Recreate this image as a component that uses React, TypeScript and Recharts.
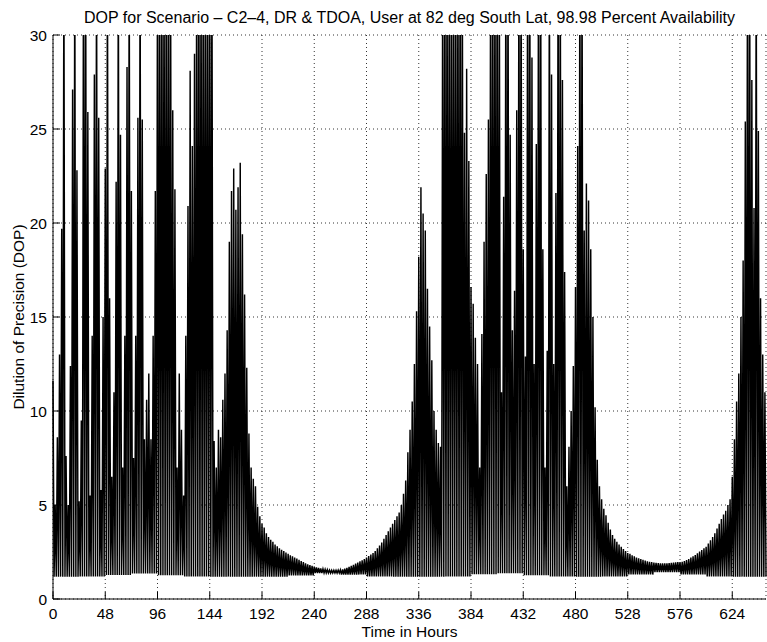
import React from 'react'
import {
  LineChart,
  Line,
  XAxis,
  YAxis,
  CartesianGrid,
} from 'recharts'

const title =
  'DOP for Scenario – C2–4, DR & TDOA, User at 82 deg South Lat, 98.98 Percent Availability'

// x ticks (hours) and y ticks (DOP)
const hourTicks = [0, 48, 96, 144, 192, 240, 288, 336, 384, 432, 480, 528, 576, 624]
const dopTicks = [0, 5, 10, 15, 20, 25, 30]

// peak DOP of each swing, one every 2 hours (35 = off the top)
const peaks000 = [11.6, 5, 8.6, 13, 19.7, 35, 7.6, 5, 12.4, 27.1, 35, 22.8, 5.2, 9.5, 35, 35, 25.9, 5.5, 14, 27.9, 35, 25.6, 5.8, 15]
const peaks048 = [22.9, 35, 16, 6.5, 11, 22.2, 35, 24.7, 7, 14, 28.3, 35, 21.7, 7.5, 14, 25.6, 35, 25.5, 8.5, 10.6, 12, 8.5, 14, 21.7]
const peaks096 = [35, 35, 35, 35, 35, 35, 35, 26, 21.8, 7, 12, 9, 5.5, 14, 20.9, 28.1, 24.1, 29, 35, 35, 35, 35, 35, 35]
const peaks144 = [35, 35, 8.4, 7, 9, 8.6, 10.6, 12, 14.3, 19, 21.7, 22.9, 20.7, 21.9, 23.2, 19.4, 16.2, 12.3, 8.8, 7, 6.4, 6, 4.9, 4.4]
const peaks192 = [4.0, 3.8, 3.5, 3.3, 3.15, 3.05, 2.9, 2.8, 2.7, 2.62, 2.55, 2.47, 2.4, 2.33, 2.27, 2.2, 2.15, 2.08, 2.02, 1.96, 1.9, 1.85, 1.81, 1.76]
const peaks240 = [1.72, 1.68, 1.65, 1.62, 1.6, 1.58, 1.56, 1.54, 1.53, 1.53, 1.53, 1.54, 1.55, 1.58, 1.62, 1.66, 1.71, 1.76, 1.82, 1.88, 1.94, 2.0, 2.06, 2.12]
const peaks288 = [2.2, 2.28, 2.36, 2.44, 2.55, 2.7, 2.85, 3.0, 3.2, 3.4, 3.6, 3.8, 4.0, 4.2, 4.4, 4.6, 5, 5.6, 6.3, 7.8, 9, 10.5, 12.5, 15.3]
const peaks336 = [18.2, 21.9, 20.5, 19.6, 16.5, 14.5, 12.7, 10, 9, 8.3, 8.1, 35, 35, 35, 35, 35, 35, 35, 35, 35, 35, 24.8, 28.2, 23.3]
const peaks384 = [16.6, 15.7, 13.9, 12.5, 7, 14.1, 19, 22.6, 25.5, 35, 35, 35, 35, 35, 11, 21.4, 35, 35, 24.7, 14.3, 16.4, 26, 35, 35]
const peaks432 = [18.6, 12.9, 35, 35, 28.8, 12.5, 24.2, 35, 35, 18.6, 7, 13.2, 35, 27.9, 12.5, 21.6, 35, 35, 27.6, 17.4, 6, 8.1, 10, 12.4]
const peaks480 = [16.6, 24.1, 35, 35, 19.6, 22.1, 21.2, 18.6, 15, 10.2, 7.4, 6, 5.3, 4.8, 4.45, 4.05, 3.7, 3.4, 3.2, 3.05, 2.9, 2.78, 2.66, 2.55]
const peaks528 = [2.45, 2.4, 2.33, 2.27, 2.21, 2.16, 2.12, 2.08, 2.04, 2.0, 1.98, 1.96, 1.94, 1.92, 1.91, 1.9, 1.9, 1.9, 1.9, 1.91, 1.92, 1.94, 1.95, 1.96]
const peaks576 = [1.97, 1.98, 2.02, 2.07, 2.13, 2.2, 2.27, 2.34, 2.43, 2.52, 2.61, 2.7, 2.78, 2.95, 3.12, 3.3, 3.5, 3.75, 4.0, 4.25, 4.5, 4.7, 5.0, 5.3]
const peaks624 = [6.5, 8.5, 10.5, 12, 15, 18, 25.4, 35, 35, 27.6, 20.8, 35, 24.9, 16, 13, 11]

// floor of the swings, one value per 24 hours
const troughs = [1.19, 1.2, 1.28, 1.36, 1.26, 1.2, 1.19, 1.19, 1.19, 1.25, 1.38, 1.3, 1.2, 1.19, 1.19, 1.2, 1.32, 1.37, 1.26, 1.2, 1.19, 1.2, 1.3, 1.43, 1.3, 1.2, 1.19, 1.19]

const peaks = [
  ...peaks000, ...peaks048, ...peaks096, ...peaks144, ...peaks192, ...peaks240, ...peaks288,
  ...peaks336, ...peaks384, ...peaks432, ...peaks480, ...peaks528, ...peaks576, ...peaks624,
]

const data = peaks.flatMap((p, i) => [
  { hours: i * 2, dop: p },
  { hours: i * 2 + 1, dop: troughs[Math.floor((i * 2) / 24)] },
])

const font = '"Liberation Sans", Arial, Helvetica, sans-serif'
const fs = 15.5

const YLabel = (props: any) => {
  const vb = props.viewBox
  const cx = vb.x + 5.5
  const cy = vb.y + vb.height / 2
  return (
    <text
      x={cx}
      y={cy}
      transform={`rotate(-90 ${cx} ${cy})`}
      textAnchor="middle"
      dominantBaseline="central"
      fontSize={fs}
      fontFamily={font}
      fill="#000"
    >
      Dilution of Precision (DOP)
    </text>
  )
}

const App: React.FC = () => {
  return (
    <div style={{ position: 'absolute', left: 0, top: 0, width: 767, height: 642, background: '#fff' }}>
      <div
        style={{
          position: 'absolute',
          left: 53,
          width: 713,
          top: 9,
          textAlign: 'center',
          fontFamily: font,
          fontSize: 16,
          lineHeight: '18px',
          whiteSpace: 'nowrap',
        }}
      >
        {title}
      </div>
      <LineChart
        width={767}
        height={642}
        data={data}
        margin={{ top: 35, right: 1, bottom: 0, left: 13 }}
        style={{ fontFamily: font }}
      >
        <CartesianGrid stroke="#000" strokeDasharray="1 3" strokeWidth={0.8} />
        <XAxis
          dataKey="hours"
          type="number"
          domain={[0, 655]}
          ticks={hourTicks}
          height={43}
          stroke="#000"
          tickSize={-7}
          tickMargin={16}
          tick={{ fontSize: fs, fill: '#000' }}
          label={{ value: 'Time in Hours', position: 'insideBottom', offset: 5, fontSize: fs, fill: '#000' }}
        />
        <XAxis
          xAxisId="top"
          orientation="top"
          type="number"
          domain={[0, 655]}
          ticks={hourTicks}
          height={0}
          stroke="#000"
          tickSize={-7}
          tick={false}
        />
        <YAxis
          type="number"
          domain={[0, 30]}
          ticks={dopTicks}
          allowDataOverflow
          width={40}
          stroke="#000"
          tickSize={-7}
          tickMargin={13}
          tick={{ fontSize: fs, fill: '#000' }}
          label={{ content: YLabel }}
        />
        <YAxis
          yAxisId="right"
          orientation="right"
          type="number"
          domain={[0, 30]}
          ticks={dopTicks}
          width={0}
          stroke="#000"
          tickSize={-7}
          tick={false}
        />
        <Line
          type="linear"
          dataKey="dop"
          stroke="#000"
          strokeWidth={1.45}
          dot={false}
          activeDot={false}
          isAnimationActive={false}
        />
      </LineChart>
    </div>
  )
}

export default App
